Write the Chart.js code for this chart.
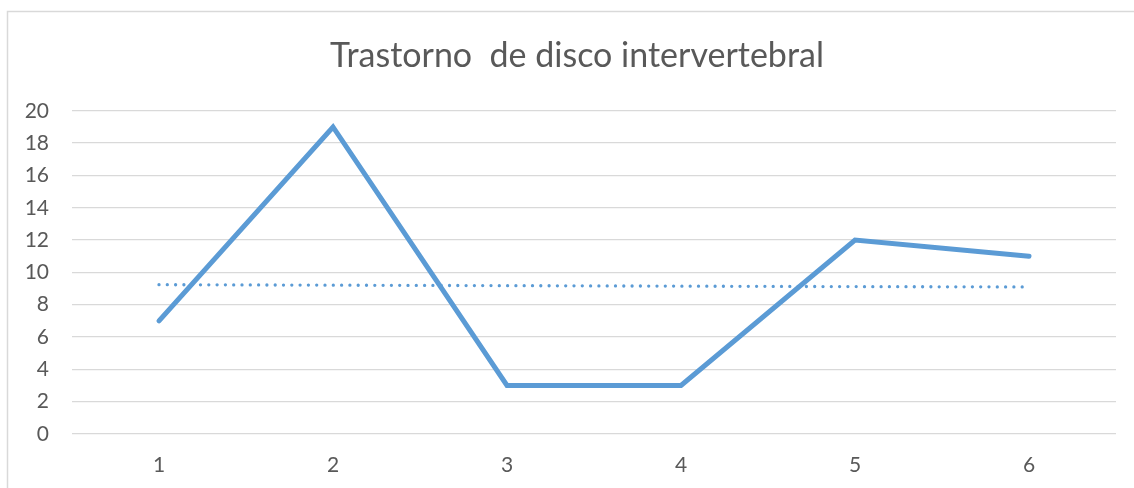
<!DOCTYPE html>
<html>
<head>
<meta charset="utf-8">
<script src="https://cdn.jsdelivr.net/npm/chart.js@4"></script>
<style>
html,body{margin:0;padding:0;background:#fff;}
#wrap{width:1134px;height:488px;position:relative;}
</style>
</head>
<body>
<div id="wrap"><canvas id="c" width="1134" height="488"></canvas></div>
<script>
const titleText = 'Trastorno  de disco intervertebral';
const categories = ['1', '2', '3', '4', '5', '6'];
const seriesValues = [7, 19, 3, 3, 12, 11];
const trendValues = [9.24, 9.21, 9.18, 9.15, 9.12, 9.10];
const yTicks = [0, 2, 4, 6, 8, 10, 12, 14, 16, 18, 20];

const textColor = '#595959';
const gridColor = '#d9d9d9';
const lineColor = '#5b9bd5';
const fontFamily = "Lato, 'Open Sans', sans-serif";

const borderPlugin = {
  id: 'frame',
  beforeDraw(chart) {
    const ctx = chart.ctx;
    ctx.save();
    ctx.fillStyle = '#fff';
    ctx.fillRect(0, 0, chart.width, chart.height);
    ctx.strokeStyle = gridColor;
    ctx.lineWidth = 1.5;
    ctx.beginPath();
    ctx.moveTo(7.5, chart.height + 5);
    ctx.lineTo(7.5, 11.5);
    ctx.lineTo(chart.width + 5, 11.5);
    ctx.stroke();
    ctx.restore();
  }
};

const titleShift = {
  id: 'titleShift',
  afterLayout(chart) {
    const t = chart.titleBlock;
    if (t) { t.left += 15; t.right += 15; }
  }
};

new Chart(document.getElementById('c'), {
  type: 'line',
  data: {
    labels: categories,
    datasets: [
      {
        label: 'Serie',
        data: seriesValues,
        borderColor: lineColor,
        backgroundColor: lineColor,
        borderWidth: 5,
        borderCapStyle: 'round',
        borderJoinStyle: 'miter',
        pointRadius: 0,
        tension: 0,
        fill: false
      },
      {
        label: 'Tendencia',
        data: trendValues,
        borderColor: lineColor,
        backgroundColor: lineColor,
        borderWidth: 3.3,
        borderDash: [0, 8.3],
        borderCapStyle: 'round',
        pointRadius: 0,
        tension: 0,
        fill: false
      }
    ]
  },
  options: {
    responsive: false,
    animation: false,
    devicePixelRatio: 1,
    layout: { padding: { left: 8, right: 18, top: 0, bottom: 0 } },
    plugins: {
      legend: { display: false },
      tooltip: { enabled: false },
      title: {
        display: true,
        text: titleText,
        color: textColor,
        font: { family: fontFamily, size: 34, weight: 'normal' },
        padding: { top: 36, bottom: 34 }
      }
    },
    scales: {
      x: {
        offset: true,
        grid: { display: false, drawTicks: false },
        border: { display: false },
        ticks: {
          color: textColor,
          font: { family: fontFamily, size: 21 },
          padding: 19,
          maxRotation: 0
        },
        afterFit(scale) { scale.height = 54; }
      },
      y: {
        min: 0,
        max: 20,
        afterBuildTicks(scale) { scale.ticks = yTicks.map(v => ({ value: v })); },
        grid: { color: gridColor, lineWidth: 1.3, drawTicks: false },
        border: { display: false },
        ticks: {
          color: textColor,
          font: { family: fontFamily, size: 21 },
          padding: 23
        },
        afterFit(scale) { scale.width = 64; }
      }
    }
  },
  plugins: [borderPlugin, titleShift]
});
</script>
</body>
</html>
